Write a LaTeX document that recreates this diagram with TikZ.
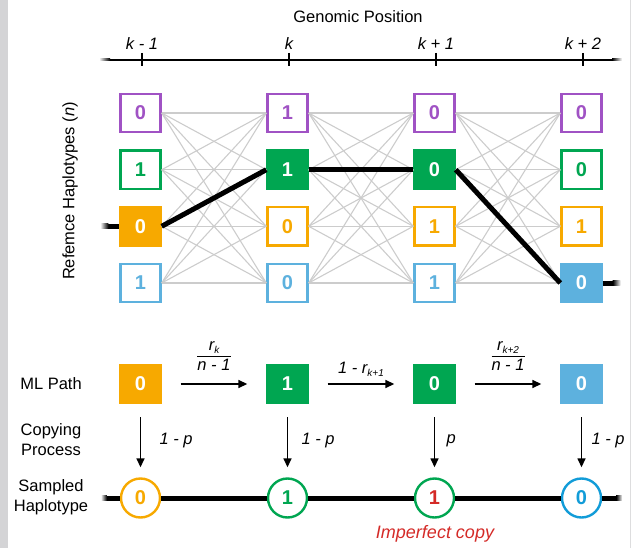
\documentclass[tikz,border=0pt]{standalone}
\usepackage{fontspec}
\setmainfont{Liberation Sans}
\usetikzlibrary{arrows.meta,calc}

\definecolor{hpurple}{HTML}{A052C4}
\definecolor{hgreen}{HTML}{00A651}
\definecolor{horange}{HTML}{F7A900}
\definecolor{hblue}{HTML}{5DB1DE}
\definecolor{sblue}{HTML}{129CD8}
\definecolor{hred}{HTML}{D42A27}
\definecolor{gridgray}{HTML}{CCCCCC}
\definecolor{bandgray}{HTML}{D4D4D6}

% a rate written as a small fraction
\newcommand\lowsub[1]{\raisebox{-3.5pt}{\fontsize{10}{10}\selectfont #1}}
\newcommand\ratefrac[2]{{\setlength{\arrayrulewidth}{1.1pt}\renewcommand{\arraystretch}{0.95}%
  \begin{tabular}{@{}c@{}}#1\\\hline #2\end{tabular}}}

\begin{document}
\begin{tikzpicture}[x=1pt,y=-1pt,
  labfont/.style={font=\fontsize{16.5}{20}\selectfont},
  itlab/.style={font=\fontsize{16.5}{20}\selectfont\itshape},
  hbox/.style={draw=#1, line width=2.4pt, fill=white, text=#1,
    minimum width=40pt, minimum height=38.5pt, inner sep=0pt,
    font=\fontsize{20}{20}\selectfont\bfseries},
  hfull/.style={hbox=#1, fill=#1, text=white},
  scirc/.style={circle, draw=#1, line width=2.4pt, fill=white, text=#1,
    minimum size=39pt, inner sep=0pt, font=\fontsize{20}{20}\selectfont\bfseries},
  gridline/.style={draw=gridgray, line width=1.1pt},
  mlpath/.style={draw=black, line width=5pt},
  harrow/.style={draw=black, line width=1.5pt, -{Triangle[length=9pt,width=8pt]},
    shorten <=19pt, shorten >=19pt},
  varrow/.style={draw=black, line width=1.5pt, -{Triangle[length=9pt,width=8pt]},
    shorten <=13pt, shorten >=10pt},
  ticks/.style={draw=black, line width=2.6pt},
]
\useasboundingbox (0,0) rectangle (631,548);

% page edges
\fill[bandgray] (0,0) rectangle (8,548);
\fill[bandgray!80] (630,0) rectangle (631,548);

% genomic axis
\node[labfont] (title) at (358,17) {Genomic Position};
\draw[black, line width=2pt] (110,60) -- (612,60);
\shade[left color=white, right color=black] (99,59) rectangle (110,61);
\shade[left color=black, right color=white] (612,59) rectangle (622,61);
\foreach \x/\t in {142/k - 1, 289/k, 436/k + 1, 583/k + 2}{
  \draw[ticks] (\x,53) -- (\x,66);
  \node[itlab] at (\x,44) {\t};
}

% reference haplotypes
\node[hbox=hpurple] (c1r1) at (140.5,113) {0};
\node[hbox=hgreen]  (c1r2) at (140.5,169.7) {1};
\node[hfull=horange] (c1r3) at (140.5,226.3) {0};
\node[hbox=hblue]   (c1r4) at (140.5,283) {1};

\node[hbox=hpurple] (c2r1) at (287.5,113) {1};
\node[hfull=hgreen] (c2r2) at (287.5,169.7) {1};
\node[hbox=horange] (c2r3) at (287.5,226.3) {0};
\node[hbox=hblue]   (c2r4) at (287.5,283) {0};

\node[hbox=hpurple] (c3r1) at (434.5,113) {0};
\node[hfull=hgreen] (c3r2) at (434.5,169.7) {0};
\node[hbox=horange] (c3r3) at (434.5,226.3) {1};
\node[hbox=hblue]   (c3r4) at (434.5,283) {1};

\node[hbox=hpurple] (c4r1) at (581.5,113) {0};
\node[hbox=hgreen]  (c4r2) at (581.5,169.7) {0};
\node[hbox=horange] (c4r3) at (581.5,226.3) {1};
\node[hfull=hblue]  (c4r4) at (581.5,283) {0};

\node[labfont, rotate=90] (reflab) at (70,191) {Refemce Haplotypes (\textit{n})};

% all possible switches between neighbouring positions
\foreach \a/\b in {1/2,2/3,3/4}
  \foreach \i in {1,...,4}
    \foreach \j in {1,...,4}
      \draw[gridline] (c\a r\i.east) -- (c\b r\j.west);

% most likely path
\draw[mlpath] (c1r3.east) -- (c2r2.west);
\draw[mlpath] (c2r2.east) -- (c3r2.west);
\draw[mlpath] (c3r2.east) -- (c4r4.west);
\coordinate (pin) at ($(c1r3.west)+(-19,0)$);
\coordinate (pout) at ($(c4r4.east)+(18,0)$);
\draw[mlpath] ($(pin)+(8,0)$) -- (c1r3.west);
\shade[left color=white, right color=black] ($(pin)+(0,-2.5)$) rectangle ($(pin)+(8,2.5)$);
\draw[mlpath] (c4r4.east) -- ($(pout)+(-8,0)$);
\shade[left color=black, right color=white] ($(pout)+(-8,-2.5)$) rectangle ($(pout)+(0,2.5)$);

% ML path row
\node[labfont] (mllab) at (51,384) {ML Path};
\node[hfull=horange] (m1) at (140.5,384) {0};
\node[hfull=hgreen]  (m2) at (287.5,384) {1};
\node[hfull=hgreen]  (m3) at (434.5,384) {0};
\node[hfull=hblue]   (m4) at (581.5,384) {0};

\draw[harrow] (m1) -- (m2) node[midway, above=4pt, itlab] (f1)
  {\ratefrac{\textit{r}\lowsub{\textit{k}}}{\textit{n - 1}}};
\draw[harrow] (m2) -- (m3) node[midway, above=3pt, itlab] (f2)
  {1 - \textit{r}\lowsub{\textit{k+1}}};
\draw[harrow] (m3) -- (m4) node[midway, above=4pt, itlab] (f3)
  {\ratefrac{\textit{r}\lowsub{\textit{k+2}}}{\textit{n - 1}}};

% copying process
\node[labfont, align=center] (cplab) at (51,440) {Copying\\Process};
\node[labfont, align=center] (smlab) at (51,497) {Sampled\\Haplotype};

\node[scirc=horange] (s1) at (140.5,498) {0};
\node[scirc=hgreen]  (s2) at (287.5,498) {1};
\node[scirc=hgreen, text=hred] (s3) at (434.5,498) {1};
\node[scirc=sblue]   (s4) at (581.5,498) {0};

\draw[varrow] (m1) -- (s1) node[midway, anchor=west, xshift=15pt, itlab] (p1) {1 - p};
\draw[varrow] (m2) -- (s2) node[midway, anchor=west, xshift=10pt, itlab] (p2) {1 - p};
\draw[varrow] (m3) -- (s3) node[midway, anchor=west, xshift=8pt, itlab] (p3) {p};
\draw[varrow] (m4) -- (s4) node[midway, anchor=west, xshift=6pt, itlab] (p4) {1 - p};

% sampled haplotype
\draw[mlpath] (s1) -- (s2);
\draw[mlpath] (s2) -- (s3);
\draw[mlpath] (s3) -- (s4);
\coordinate (sin) at ($(s1.west)+(-19,0)$);
\coordinate (sout) at ($(s4.east)+(20,0)$);
\draw[mlpath] ($(sin)+(6,0)$) -- (s1.west);
\shade[left color=white, right color=black] ($(sin)+(0,-2.5)$) rectangle ($(sin)+(6,2.5)$);
\draw[mlpath] (s4.east) -- ($(sout)+(-6,0)$);
\shade[left color=black, right color=white] ($(sout)+(-6,-2.5)$) rectangle ($(sout)+(0,2.5)$);

\node[font=\fontsize{18}{20}\selectfont\itshape, text=hred] (imp) at (435,534) {Imperfect copy};
\end{tikzpicture}
\end{document}
